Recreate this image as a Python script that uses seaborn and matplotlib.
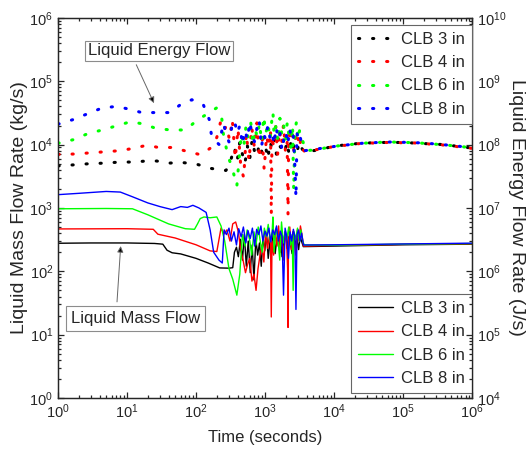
import numpy as np
import pandas as pd
import matplotlib
matplotlib.use('Agg')
import matplotlib.pyplot as plt
import seaborn as sns

sns.set_style('ticks')
plt.rcParams['font.family'] = ['Liberation Sans', 'DejaVu Sans']
plt.rcParams['mathtext.fontset'] = 'custom'
plt.rcParams['mathtext.rm'] = 'Liberation Sans'
plt.rcParams['mathtext.it'] = 'Liberation Sans:italic'
plt.rcParams['mathtext.default'] = 'regular'
plt.rcParams['axes.linewidth'] = 0.9
plt.rcParams['xtick.direction'] = 'in'
plt.rcParams['ytick.direction'] = 'in'

names = ['CLB 3 in', 'CLB 4 in', 'CLB 6 in', 'CLB 8 in']
colors = ['#000000', '#ff0000', '#00ff00', '#0000ff']

# liquid mass flow rate (kg/s), left axis
t_m3 = [1, 3, 10, 25, 33, 38, 45, 60, 100, 150, 220, 300,
        340, 360, 385, 410, 440, 470, 500, 535, 570, 610, 650, 690, 735, 780, 830, 880, 935, 990, 1050, 1110,
        1180, 1250, 1320, 1400, 1480, 1570, 1660, 1760, 1860, 1970, 2080, 2200, 2330, 2460, 2600, 2750, 2900,
        3060, 3230, 3400, 3580,
        1e4, 1e5, 1e6]
m3 = [277, 280, 280, 275, 268, 215, 196, 188, 160, 135, 113, 112,
      114, 200, 240, 170, 320, 150, 380, 120, 300, 95, 260, 73, 330, 180, 280, 120, 350, 210, 400, 160,
      300, 240, 420, 190, 330, 260, 380, 170, 300, 420, 230, 350, 280, 190, 400, 260, 330,
      220, 360, 290, 245,
      250, 262, 268]

t_m4 = [1, 10, 24, 28, 50, 100, 160, 200,
        230, 255, 280, 310, 340, 375, 410, 445, 480, 520, 560, 600, 645, 690, 740, 790, 845, 900, 960, 1020,
        1085, 1150, 1200, 1230, 1260, 1330, 1410, 1490, 1570, 1660, 1750, 1850, 1950, 2050, 2120, 2150, 2180,
        2280, 2400, 2520, 2650, 2790, 2940, 3090, 3250, 3420, 3600,
        1e4, 1e5, 1e6]
m4 = [466, 470, 460, 385, 335, 262, 210, 205,
      480, 390, 450, 300, 560, 600, 420, 210, 150, 95, 130, 160, 70, 90, 50, 110, 180, 260, 140, 420,
      230, 350, 280, 19, 300, 180, 450, 250, 520, 200, 380, 150, 420, 300, 110, 13, 280,
      500, 220, 420, 330, 180, 450, 300, 520, 380, 250,
      256, 266, 272]

t_m6 = [1, 5, 12, 20, 40, 70, 95, 105, 115, 130, 160, 200, 230, 260, 300, 340, 390, 430,
        470, 510, 550, 595, 640, 690, 740, 795, 850, 910, 975, 1040, 1110, 1185, 1265, 1300, 1350, 1440,
        1530, 1630, 1730, 1840, 1950, 2070, 2200, 2330, 2470, 2550, 2620, 2780, 2950, 3120, 3300, 3500, 3700,
        1e4, 1e5, 1e6]
m6 = [970, 980, 970, 780, 560, 470, 460, 560, 680, 720, 700, 720, 520, 300, 110, 75, 42, 90,
      380, 250, 450, 320, 180, 420, 260, 500, 300, 200, 480, 350, 550, 300, 420, 720, 200, 480,
      350, 150, 600, 280, 420, 320, 500, 260, 380, 50, 420, 320, 480, 300, 450, 300, 260,
      258, 268, 274]

t_m8 = [1, 2, 5, 8, 12, 20, 30, 45, 60, 75, 90, 110, 140, 160, 180, 215, 240, 255,
        275, 300, 325, 355, 385, 415, 450, 485, 525, 565, 610, 655, 705, 755, 810, 870, 930, 995, 1065, 1135,
        1210, 1290, 1375, 1465, 1560, 1660, 1760, 1850, 1950, 2060, 2180, 2300, 2430, 2570, 2700, 2800, 2900,
        3050, 3200, 3380, 3600,
        1e4, 1e5, 1e6]
m8 = [1620, 1700, 1820, 1780, 1500, 1200, 1050, 940, 1050, 1020, 1100, 1000, 850, 450, 200, 150, 135, 450,
      380, 480, 300, 420, 260, 470, 350, 500, 280, 440, 330, 480, 250, 460, 380, 520, 300, 430, 360, 480,
      290, 450, 380, 520, 300, 430, 360, 42, 480, 350, 160, 420, 300, 460, 350, 25, 380,
      450, 300, 400, 260,
      262, 270, 278]

# liquid energy flow rate (J/s), right axis
t_e3 = [1, 1.76, 2.9, 4.8, 7.9, 12.6, 18.7, 27, 40, 64, 102, 165, 270,
        300, 330, 360, 395, 430, 470, 510, 555, 600, 650, 700, 760, 820, 885, 950, 1020, 1100, 1180, 1270,
        1360, 1460, 1570, 1690, 1810, 1940, 2080, 2230, 2390, 2560, 2740, 2930, 3130, 3350,
        3700, 4200, 6300, 9600, 2.4e4, 5e4, 1e5, 3.8e5, 1e6]
e3 = [4.6e7, 4.8e7, 5.0e7, 5.1e7, 5.3e7, 5.3e7, 5.5e7, 5.5e7, 5.1e7, 5.2e7, 4.9e7, 4.2e7, 3.9e7,
      4.5e7, 6.5e7, 9.0e7, 5.5e7, 1.1e8, 7.0e7, 5.0e7, 9.5e7, 6.0e7, 1.2e8, 8.0e7, 6.5e7, 1.0e8, 7.5e7,
      1.3e8, 9.0e7, 6.0e7, 1.1e8, 8.5e7, 1.2e8, 7.0e7, 1.0e8, 9.0e7, 1.3e8, 8.0e7, 1.1e8, 7.0e7, 1.2e8,
      9.0e7, 1.05e8, 8.0e7, 1.1e8, 9.0e7,
      7.5e7, 7.8e7, 8.3e7, 9.4e7, 1.05e8, 1.08e8, 1.08e8, 1.0e8, 8.8e7]

t_e4 = [1, 1.76, 2.9, 4.8, 7.7, 12.3, 19.6, 28.4, 46, 71, 117, 169,
        200, 225, 250, 275, 305, 335, 370, 405, 445, 490, 535, 585, 640, 700, 760, 825, 895, 970, 1050, 1130,
        1200, 1230, 1260, 1330, 1420, 1520, 1620, 1730, 1850, 1970, 2080, 2150, 2200, 2320, 2460, 2610, 2770,
        2940, 3120, 3310, 3500,
        3800, 4500, 1e4, 2.4e4, 6e4, 1.5e5, 4e5, 1e6]
e4 = [7.0e7, 7.1e7, 7.4e7, 7.7e7, 8.0e7, 8.7e7, 9.8e7, 9.0e7, 9.0e7, 7.9e7, 6.9e7, 9.1e7,
      1.3e8, 2.2e8, 1.6e8, 2.0e8, 1.2e8, 2.5e8, 6.0e7, 1.8e8, 4.5e7, 3.0e7, 1.5e8, 5.5e7, 1.9e8, 9.0e7,
      2.2e8, 6.0e7, 1.6e8, 4.0e7, 1.4e8, 9.0e7, 1.7e8, 7.8e6, 1.4e8, 9.0e7, 2.0e8, 7.0e7, 1.7e8, 1.0e8,
      2.1e8, 8.0e7, 1.5e8, 7.8e6, 1.5e8, 1.1e8, 1.8e8, 8.0e7, 1.3e8, 1.6e8, 9.0e7, 1.2e8, 8.5e7,
      7.6e7, 8.0e7, 9.3e7, 1.04e8, 1.08e8, 1.06e8, 9.8e7, 8.7e7]

t_e6 = [1, 1.7, 2.75, 4.4, 7.3, 11.3, 17.8, 26.2, 43, 71, 102, 142, 199, 236, 245, 290, 330, 390,
        420, 455, 490, 530, 570, 615, 665, 715, 770, 830, 890, 955, 1025, 1100, 1180, 1260, 1300, 1350,
        1440, 1540, 1640, 1750, 1860, 1980, 2100, 2230, 2370, 2500, 2600, 2700, 2850, 3000, 3170, 3350, 3550,
        3800, 5000, 1.1e4, 2.6e4, 6e4, 1.5e5, 4e5, 1e6]
e6 = [1.05e8, 1.2e8, 1.5e8, 1.7e8, 2.0e8, 2.3e8, 2.1e8, 1.8e8, 1.7e8, 1.7e8, 2.4e8, 3.0e8, 3.8e8, 2.6e8,
      1.6e8, 6.5e7, 4.5e7, 2.2e7,
      6.0e7, 1.5e8, 9.0e7, 2.0e8, 1.2e8, 2.5e8, 1.0e8, 1.8e8, 1.3e8, 2.2e8, 1.1e8, 2.8e8, 1.5e8, 2.2e8,
      1.2e8, 2.6e8, 3.3e8, 1.4e8, 2.0e8, 1.1e8, 2.6e8, 1.4e8, 2.0e8, 1.2e8, 2.3e8, 1.3e8, 9.0e7, 2.0e8,
      1.9e7, 1.6e8, 2.3e8, 1.2e8, 1.7e8, 1.3e8, 1.1e8,
      8.0e7, 8.2e7, 9.5e7, 1.05e8, 1.1e8, 1.07e8, 9.9e7, 8.9e7]

t_e8 = [1, 1.7, 2.75, 4.4, 7.1, 11, 16.3, 25.4, 42, 60, 87, 127, 155, 169, 216, 249,
        275, 300, 330, 360, 395, 430, 470, 510, 555, 600, 650, 705, 760, 820, 885, 950, 1020, 1095, 1175,
        1260, 1350, 1445, 1545, 1650, 1760, 1880, 2000, 2130, 2270, 2410, 2560, 2720, 2800, 2900, 3050,
        3230, 3420,
        3700, 5500, 1.2e4, 2.8e4, 7e4, 2e5, 5e5, 1e6]
e8 = [2.1e8, 2.5e8, 3.1e8, 3.8e8, 4.0e8, 3.6e8, 3.2e8, 3.2e8, 3.2e8, 4.3e8, 5.1e8, 4.3e8, 2.5e8, 1.3e8,
      1.0e8, 2.2e8,
      1.4e8, 1.1e8, 1.9e8, 2.4e8, 1.5e8, 2.0e8, 1.0e8, 1.7e8, 1.2e8, 2.3e8, 1.4e8, 1.1e8, 1.8e8, 2.5e8,
      9.0e7, 1.5e8, 1.2e8, 2.0e8, 1.3e8, 1.6e8, 1.0e8, 1.9e8, 1.2e8, 1.5e8, 8.0e7, 1.3e8, 1.6e8, 1.0e8,
      1.8e8, 1.2e8, 1.4e8, 4.0e7, 1.45e7, 1.5e8, 1.1e8, 1.3e8, 1.0e8,
      8.0e7, 8.5e7, 9.6e7, 1.06e8, 1.1e8, 1.06e8, 9.7e7, 8.9e7]

mass = [(t_m3, m3), (t_m4, m4), (t_m6, m6), (t_m8, m8)]
energy = [(t_e3, e3), (t_e4, e4), (t_e6, e6), (t_e8, e8)]

fig, ax = plt.subplots(figsize=(5.27, 4.58), dpi=100)
fig.subplots_adjust(left=0.110, right=0.896, top=0.961, bottom=0.131)
ax2 = ax.twinx()

for (t, v), name, c in zip(mass, names, colors):
    sns.lineplot(x=t, y=v, color=c, lw=1.0, label=name, estimator=None, ax=ax)
for (t, v), name, c in zip(energy, names, colors):
    sns.lineplot(x=t, y=v, color=c, lw=2.2, linestyle=(0, (0.4, 4.2)), dash_capstyle='round',
                 label=name, estimator=None, ax=ax2)

ax.set_xscale('log')
ax.set_yscale('log')
ax2.set_yscale('log')
ax.set_xlim(1, 1e6)
ax.set_ylim(1, 1e6)
ax2.set_ylim(1e4, 1e10)

ax.set_xlabel('Time (seconds)', fontsize=12, labelpad=6)
ax.set_ylabel('Liquid Mass Flow Rate (kg/s)', fontsize=14, labelpad=1)
ax2.set_ylabel('Liquid Energy Flow Rate (J/s)', fontsize=14, rotation=270, va='bottom', labelpad=1)

ax.tick_params(which='both', direction='in', top=True, right=False, labelsize=10.5, width=0.9)
ax.tick_params(which='major', length=4)
ax.tick_params(which='minor', length=2.2)
ax2.tick_params(which='both', direction='in', labelsize=10.5, width=0.9)
ax2.tick_params(which='major', length=4)
ax2.tick_params(which='minor', length=2.2)

legend_kw = dict(fontsize=12, frameon=True, fancybox=False, edgecolor='0.4', framealpha=1,
                 handlelength=2.1, handletextpad=0.5, labelspacing=0.5, borderpad=0.42, borderaxespad=0)
leg2 = ax2.legend(loc='upper right', bbox_to_anchor=(1.0, 0.982), **legend_kw)
leg2.get_frame().set_linewidth(0.8)
leg1 = ax.legend(loc='lower right', bbox_to_anchor=(1.0, 0.013), **legend_kw)
leg1.get_frame().set_linewidth(0.8)

ax.annotate('Liquid Energy Flow', xy=(24.6, 4.5e4), xytext=(28.9, 3.05e5), ha='center', va='center',
            fontsize=12, bbox=dict(boxstyle='square,pad=0.15', fc='white', ec='0.55', lw=0.8),
            arrowprops=dict(arrowstyle='-|>', fc='black', ec='0.4', lw=0.7, relpos=(0.32, 0),
                            shrinkA=3, shrinkB=0, mutation_scale=9))
ax.annotate('Liquid Mass Flow', xy=(8.1, 250), xytext=(13.1, 17.7), ha='center', va='center',
            fontsize=12, bbox=dict(boxstyle='square,pad=0.3', fc='white', ec='0.55', lw=0.8),
            arrowprops=dict(arrowstyle='-|>', fc='black', ec='0.4', lw=0.7, relpos=(0.355, 1.0),
                            shrinkA=3, shrinkB=0, mutation_scale=9))

fig.savefig('out.png', dpi=100)
